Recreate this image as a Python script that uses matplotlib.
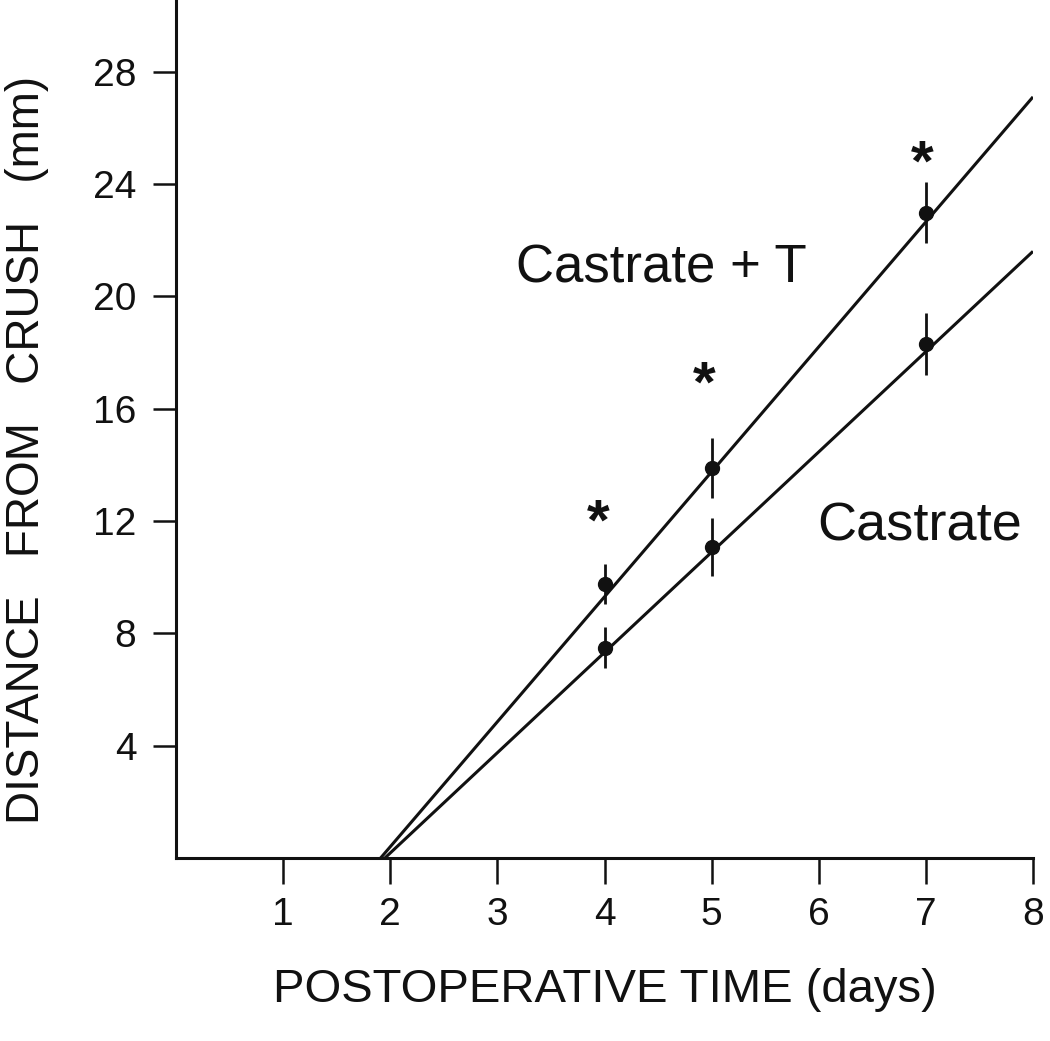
import matplotlib
matplotlib.use("Agg")
import matplotlib.pyplot as plt

plt.rcParams['font.family'] = ['Liberation Sans', 'DejaVu Sans']

# measured days and mean distances (mm) with error bars
days = [4, 5, 7]
castrate_t = [9.76, 13.89, 22.97]
castrate_t_err = [0.71, 1.08, 1.09]
castrate = [7.48, 11.08, 18.3]
castrate_err = [0.73, 1.03, 1.09]

# regression lines: start on the x axis, run to day 8
fit_t_x = [1.91, 8.0]
fit_t_y = [0.0, 27.1]
fit_c_x = [1.95, 8.0]
fit_c_y = [0.0, 21.6]

# significance marks
star_x = [3.94, 4.93, 6.97]
star_y = [11.87, 16.77, 24.67]

xticks = [1, 2, 3, 4, 5, 6, 7, 8]
yticks = [4, 8, 12, 16, 20, 24, 28]

fig = plt.figure(figsize=(10.5, 10.41), dpi=100)
ax = fig.add_axes([176 / 1050, 183 / 1041, (1033 - 176) / 1050, 858 / 1041])

ink = '#111111'
ax.plot(fit_t_x, fit_t_y, color=ink, lw=2.2, solid_capstyle='butt')
ax.plot(fit_c_x, fit_c_y, color=ink, lw=2.2, solid_capstyle='butt')
ax.errorbar(days, castrate_t, yerr=castrate_t_err, fmt='o', color=ink,
            ms=10, elinewidth=2.0, capsize=0)
ax.errorbar(days, castrate, yerr=castrate_err, fmt='o', color=ink,
            ms=10, elinewidth=2.0, capsize=0)

for sx, sy in zip(star_x, star_y):
    ax.text(sx, sy, '*', fontsize=42, fontweight='bold', ha='center', va='center', color=ink)

ax.text(3.17, 20.48, 'Castrate + T', fontsize=38, ha='left', va='baseline', color=ink)
ax.text(5.99, 11.32, 'Castrate', fontsize=39, ha='left', va='baseline', color=ink)

ax.set_xlim(0, 8)
ax.set_ylim(0, 30.55)
ax.set_xticks(xticks)
ax.set_yticks(yticks)
ax.tick_params(axis='x', length=19, width=1.8, pad=9, labelsize=28, direction='out', colors=ink)
ax.tick_params(axis='y', length=16.5, width=1.8, pad=12, labelsize=28, direction='out', colors=ink)
for side in ['top', 'right']:
    ax.spines[side].set_visible(False)
for side in ['left', 'bottom']:
    ax.spines[side].set_linewidth(2.2)
    ax.spines[side].set_color(ink)

ax.set_xlabel('POSTOPERATIVE TIME (days)', fontsize=34, color=ink, va='center')
ax.xaxis.set_label_coords(0.5, -0.1538)
ax.set_ylabel('DISTANCE   FROM   CRUSH   (mm)', fontsize=33, color=ink, va='center')
ax.yaxis.set_label_coords(-0.174, 0.4755)

fig.savefig('out.png', dpi=100, facecolor='white')
